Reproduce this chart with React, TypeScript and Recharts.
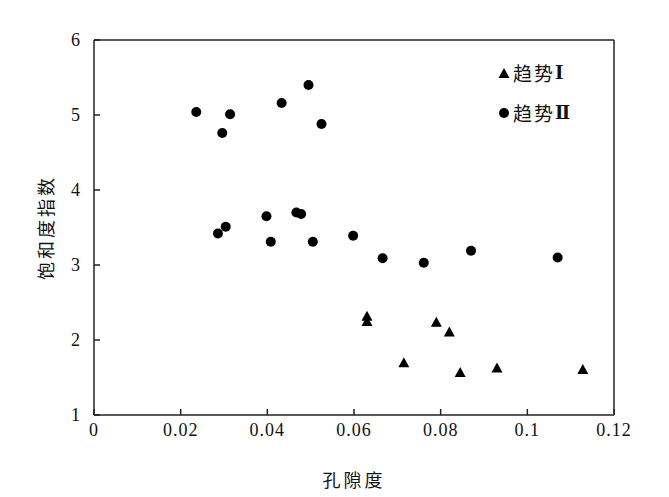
import { ScatterChart, Scatter, XAxis, YAxis, ReferenceLine, Legend } from 'recharts';

// 趋势Ⅰ
const trendOnePorosity = [0.063, 0.063, 0.079, 0.082, 0.0715, 0.0845, 0.093, 0.1128];
const trendOneSaturation = [2.31, 2.24, 2.23, 2.1, 1.69, 1.56, 1.62, 1.6];

// 趋势Ⅱ
const trendTwoPorosity = [
  0.0236, 0.0314, 0.0296, 0.0433, 0.0495, 0.0525, 0.0398, 0.0467, 0.0478, 0.0286, 0.0304, 0.0408,
  0.0505, 0.0598, 0.0666, 0.0761, 0.087, 0.107
];
const trendTwoSaturation = [
  5.04, 5.01, 4.76, 5.16, 5.4, 4.88, 3.65, 3.7, 3.68, 3.42, 3.51, 3.31, 3.31, 3.39, 3.09, 3.03, 3.19,
  3.1
];

const xTicks = [0, 0.02, 0.04, 0.06, 0.08, 0.1, 0.12];
const yTicks = [1, 2, 3, 4, 5, 6];

const seriesWords = ['趋势', '趋势'];
const seriesNumerals = ['Ⅰ', 'Ⅱ'];

const toPoints = (xs: number[], ys: number[]) => xs.map((x, i) => ({ x, y: ys[i] }));

const trendOne = toPoints(trendOnePorosity, trendOneSaturation);
const trendTwo = toPoints(trendTwoPorosity, trendTwoSaturation);

const serif = "'Times New Roman', 'Liberation Serif', 'DejaVu Serif', serif";
const cjk = "'Noto Sans CJK SC', sans-serif";
const axisColor = '#222';

const fmtX = (v: number) => String(Number(v.toFixed(2)));

const XTick = (props: any) => {
  const { x, y, payload } = props;
  return (
    <text x={x} y={y} dy='0.71em' textAnchor='middle' style={{ fontFamily: serif }} fontSize={18} fill='#111' letterSpacing={1}>
      {fmtX(payload.value)}
    </text>
  );
};

const YTick = (props: any) => {
  const { x, y, payload } = props;
  return (
    <text x={x} y={y} dy='0.355em' textAnchor='end' style={{ fontFamily: serif }} fontSize={18} fill='#111'>
      {payload.value}
    </text>
  );
};

const Triangle = (props: any) => {
  const { cx, cy } = props;
  if (cx == null || cy == null) return null;
  return <polygon points={`${cx},${cy - 6} ${cx - 5.5},${cy + 4} ${cx + 5.5},${cy + 4}`} fill='#000' />;
};

const Dot = (props: any) => {
  const { cx, cy } = props;
  if (cx == null || cy == null) return null;
  return <circle cx={cx} cy={cy} r={5} fill='#000' />;
};

const LegendBox = () => (
  <div style={{ fontFamily: cjk, fontSize: 19, color: '#111', lineHeight: '40px' }}>
    <div style={{ display: 'flex', alignItems: 'center' }}>
      <svg width={12} height={12} style={{ marginRight: 3 }}>
        <polygon points='6,1 0.5,11 11.5,11' fill='#000' />
      </svg>
      <span style={{ letterSpacing: 2 }}>{seriesWords[0]}</span>
      <span style={{ fontFamily: "'DejaVu Serif', serif", fontWeight: 'bold', fontSize: 18 }}>
        {seriesNumerals[0]}
      </span>
    </div>
    <div style={{ display: 'flex', alignItems: 'center' }}>
      <svg width={12} height={12} style={{ marginRight: 3 }}>
        <circle cx={6} cy={6} r={5} fill='#000' />
      </svg>
      <span style={{ letterSpacing: 2 }}>{seriesWords[1]}</span>
      <span style={{ fontFamily: "'DejaVu Serif', serif", fontWeight: 'bold', fontSize: 18 }}>
        {seriesNumerals[1]}
      </span>
    </div>
  </div>
);

const App = () => (
  <ScatterChart
    width={640}
    height={489}
    margin={{ top: 32, right: 34, left: 46, bottom: 52 }}
  >
    <XAxis
      type='number'
      dataKey='x'
      domain={[0, 0.12]}
      ticks={xTicks}
      allowDataOverflow
      tickSize={-6}
      tickMargin={14}
      height={30}
      stroke={axisColor}
      strokeWidth={1.5}
      tick={<XTick />}
      label={{
        value: '孔隙度',
        position: 'bottom',
        offset: 29,
        style: { fontFamily: cjk, fontSize: 18, fill: '#111', letterSpacing: 3 }
      }}
    />
    <YAxis
      type='number'
      dataKey='y'
      domain={[1, 6]}
      ticks={yTicks}
      allowDataOverflow
      tickSize={-6}
      tickMargin={20}
      width={40}
      stroke={axisColor}
      strokeWidth={1.5}
      tick={<YTick />}
      label={{
        value: '饱和度指数',
        angle: -90,
        position: 'insideLeft',
        offset: -7,
        style: { fontFamily: cjk, fontSize: 18, fill: '#111', letterSpacing: 3, textAnchor: 'middle' }
      }}
    />
    <ReferenceLine y={6} stroke={axisColor} strokeWidth={1.5} />
    <ReferenceLine x={0.12} stroke={axisColor} strokeWidth={1.5} />
    <Legend
      layout='vertical'
      align='center'
      verticalAlign='middle'
      content={<LegendBox />}
      wrapperStyle={{ top: 45, left: 490, right: 'auto', bottom: 'auto', width: 'auto' }}
    />
    <Scatter name='趋势Ⅰ' data={trendOne} shape={Triangle} isAnimationActive={false} />
    <Scatter name='趋势Ⅱ' data={trendTwo} shape={Dot} isAnimationActive={false} />
  </ScatterChart>
);

export default App;
